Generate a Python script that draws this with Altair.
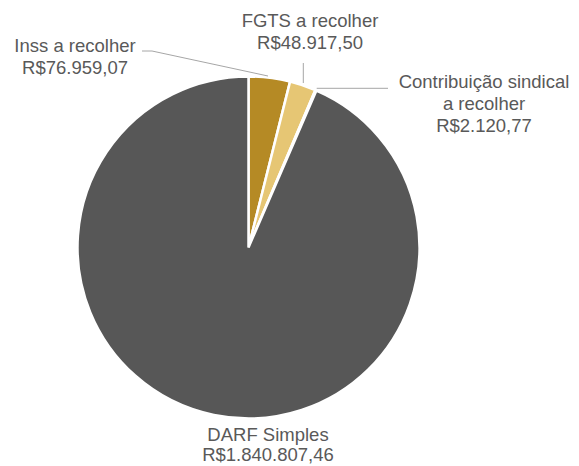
import altair as alt
import pandas as pd

# ---- data ----
categories = ["Inss a recolher", "FGTS a recolher", "Contribuição sindical\na recolher", "DARF Simples"]
values = [76959.07, 48917.50, 2120.77, 1840807.46]
colors = ["#B58A25", "#E6C674", "#7F7F7F", "#575757"]


def brl(v):
    s = f"{v:,.2f}"
    s = s.replace(",", "X").replace(".", ",").replace("X", ".")
    return "R$" + s


df = pd.DataFrame({
    "cat": categories,
    "value": values,
    "idx": list(range(len(values))),
})

# ---- layout (annotation positions, plot coords = page - 8) ----
CX, CY, R = 240.5, 239.5, 171
label_pos = [(67, 44, 22), (302, 19, 22), (476, 80, 22), (260, 433, 20)]
leader_segments = [
    (134, 43, 144, 43),
    (144, 43, 260, 68),
    (295.3, 55, 295.3, 75),
    (308.7, 80.3, 380, 80.3),
]
TEXT_COLOR = "#595959"

pie = alt.Chart(df).mark_arc(
    outerRadius=R, stroke="white", strokeWidth=2.5, strokeJoin="miter"
).encode(
    theta=alt.Theta("value:Q", stack=True),
    order=alt.Order("idx:Q"),
    color=alt.Color("cat:N", scale=alt.Scale(domain=categories, range=colors), legend=None),
    x=alt.value(CX),
    y=alt.value(CY),
)

layers = [pie]

for (x1, y1, x2, y2) in leader_segments:
    layers.append(
        alt.Chart(df.head(1)).mark_rule(color="#A6A6A6", strokeWidth=1).encode(
            x=alt.value(x1), y=alt.value(y1), x2=alt.value(x2), y2=alt.value(y2)
        )
    )

for cat, val, (lx, ly, lh) in zip(categories, values, label_pos):
    txt = cat + "\n" + brl(val)
    layers.append(
        alt.Chart(df.head(1)).mark_text(
            font="Liberation Sans", fontSize=18.5, color=TEXT_COLOR,
            align="center", baseline="alphabetic", lineBreak="\n", lineHeight=lh,
        ).encode(x=alt.value(lx), y=alt.value(ly), text=alt.value(txt))
    )

chart = alt.layer(*layers).properties(
    width=563, height=458, autosize=alt.AutoSizeParams(type="none"), padding=0
).configure_view(stroke=None)

chart.save("out.html", embed_options={"renderer": "svg", "actions": False})
